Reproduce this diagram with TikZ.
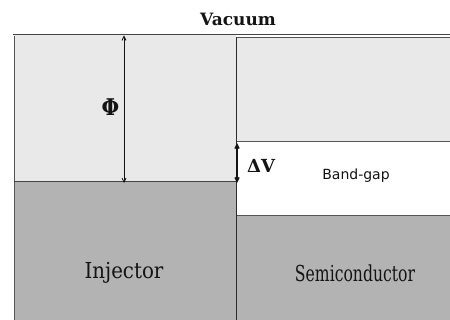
\documentclass[tikz,border=0pt]{standalone}
\usepackage{fontspec}
\setmainfont{DejaVu Serif}
\newfontfamily\bandfont{DejaVu Sans}
\newfontfamily\condfont{DejaVu Serif Condensed}
\usetikzlibrary{arrows.meta}
\definecolor{lightfill}{HTML}{E9E9E9}
\definecolor{darkfill}{HTML}{B3B3B3}
\definecolor{edge}{HTML}{555555}
\definecolor{ink}{HTML}{141414}
\tikzset{
  dimarrow/.style={draw=ink, {Straight Barb[length=4pt,width=4pt]}-{Straight Barb[length=4pt,width=4pt]}},
  lbl/.style={text=ink, inner sep=0pt, anchor=base}
}
\begin{document}
\begin{tikzpicture}[x=1pt,y=-1pt]
\useasboundingbox (0,0) rectangle (450,320);
% regions
\fill[lightfill] (14,35) rectangle (236,181);
\fill[darkfill] (14,182) rectangle (236,322);
\fill[lightfill] (237,37) rectangle (452,142);
\fill[white] (237,142) rectangle (452,215);
\fill[darkfill] (237,215) rectangle (452,322);
% borders
\draw[edge, line width=0.8pt] (14,36) -- (14,322);
\draw[edge, line width=0.8pt] (237,37) -- (452,37);
\draw[edge, line width=1pt] (237,142) -- (452,142);
\draw[edge, line width=1.6pt] (237,215.5) -- (452,215.5);
\draw[ink!80, line width=1.4pt] (14,181.5) -- (236,181.5);
\draw[ink!80, line width=1.8pt] (13,34.5) -- (452,34.5);
\draw[ink!90, line width=1.2pt] (236.5,37) -- (236.5,322);
% arrows
\coordinate (phitop) at (124,35.5);
\coordinate (phibot) at (124,183);
\coordinate (dvtop) at (237,143);
\coordinate (dvbot) at (237,183);
\draw[dimarrow, line width=0.8pt] (phitop) -- (phibot);
\draw[dimarrow, line width=1.4pt] (dvtop) -- (dvbot);
% labels
\node[lbl, font=\bfseries\fontsize{17}{19}\selectfont] (vac) at (238,26) {Vacuum};
\node[lbl, font=\bfseries\fontsize{23}{25}\selectfont] (phi) at (110.5,115.5) {\scalebox{0.88}[1]{Φ}};
\node[lbl, font=\bfseries\fontsize{18}{20}\selectfont, anchor=base west] (dv) at (247,172.5) {ΔV};
\node[lbl, font=\bandfont\fontsize{14}{16}\selectfont] (bg) at (356,179.3) {Band-gap};
\node[lbl, font=\condfont\fontsize{22}{24}\selectfont] (inj) at (124,279) {Injector};
\node[lbl, font=\condfont\fontsize{22}{24}\selectfont] (semi) at (355,282) {\scalebox{0.79}[1]{Semiconductor}};
\end{tikzpicture}
\end{document}
